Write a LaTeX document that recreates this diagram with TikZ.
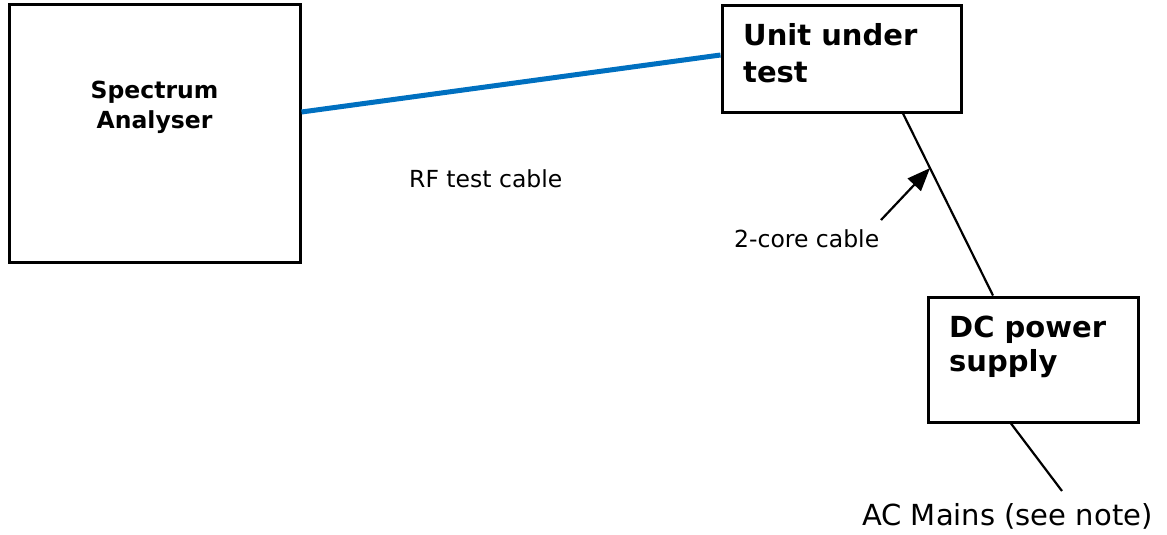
\documentclass[tikz,border=0pt]{standalone}
\usepackage{fontspec}
\setmainfont{DejaVu Sans}
\usetikzlibrary{arrows.meta}
\definecolor{cableblue}{RGB}{0,112,192}
\begin{document}
\begin{tikzpicture}[x=1pt,y=-1pt,
  box/.style={draw=black,line width=3pt,fill=white,inner sep=0pt,minimum width=#1},
  small/.style={font=\fontsize{23.5}{28}\selectfont,inner sep=0pt},
  smallbold/.style={font=\fontsize{23.5}{28}\selectfont\bfseries,inner sep=0pt},
  big/.style={font=\fontsize{29}{34}\selectfont,inner sep=0pt},
  bigbold/.style={font=\fontsize{29}{34}\selectfont\bfseries,inner sep=0pt},
  wire/.style={draw=black,line width=2.2pt},
  rfcable/.style={draw=cableblue,line width=5pt},
]
\useasboundingbox (0,0) rectangle (1167,535);
% boxes
\node[box=291pt,minimum height=257pt] (sa) at (154.5,133.5) {};
\node[box=239pt,minimum height=106pt] (uut) at (841.5,59) {};
\node[box=210pt,minimum height=125pt] (dc) at (1033,359.5) {};
% box texts
\node[smallbold,anchor=base] (sa1) at (154.5,99) {Spectrum};
\node[smallbold,anchor=base] (sa2) at (154.5,128) {Analyser};
\node[bigbold,anchor=base west] (uut1) at (743,46) {Unit under};
\node[bigbold,anchor=base west] (uut2) at (743,82) {test};
\node[bigbold,anchor=base west] (dc1) at (949,337) {DC power};
\node[bigbold,anchor=base west] (dc2) at (949,371) {supply};
% labels
\node[small,anchor=base west] (rf) at (409,187) {RF test cable};
\node[small,anchor=base west] (core) at (734,247) {2-core cable};
\node[big,anchor=base west] (ac) at (862,525) {AC Mains (see note)};
% connectors
\coordinate (mainsend) at (1062,491);
\coordinate (arrowstart) at (881,220);
\draw[rfcable] ([yshift=21.5pt]sa.east) -- ([yshift=4pt]uut.west);
\draw[wire] ([xshift=61.5pt]uut.south) -- coordinate[pos=0.3] (tip) ([xshift=-40pt]dc.north);
\draw[wire] ([xshift=-22pt]dc.south) -- (mainsend);
\draw[wire,-{Triangle[length=23pt,width=18pt]}] (arrowstart) -- (tip);
\end{tikzpicture}
\end{document}
